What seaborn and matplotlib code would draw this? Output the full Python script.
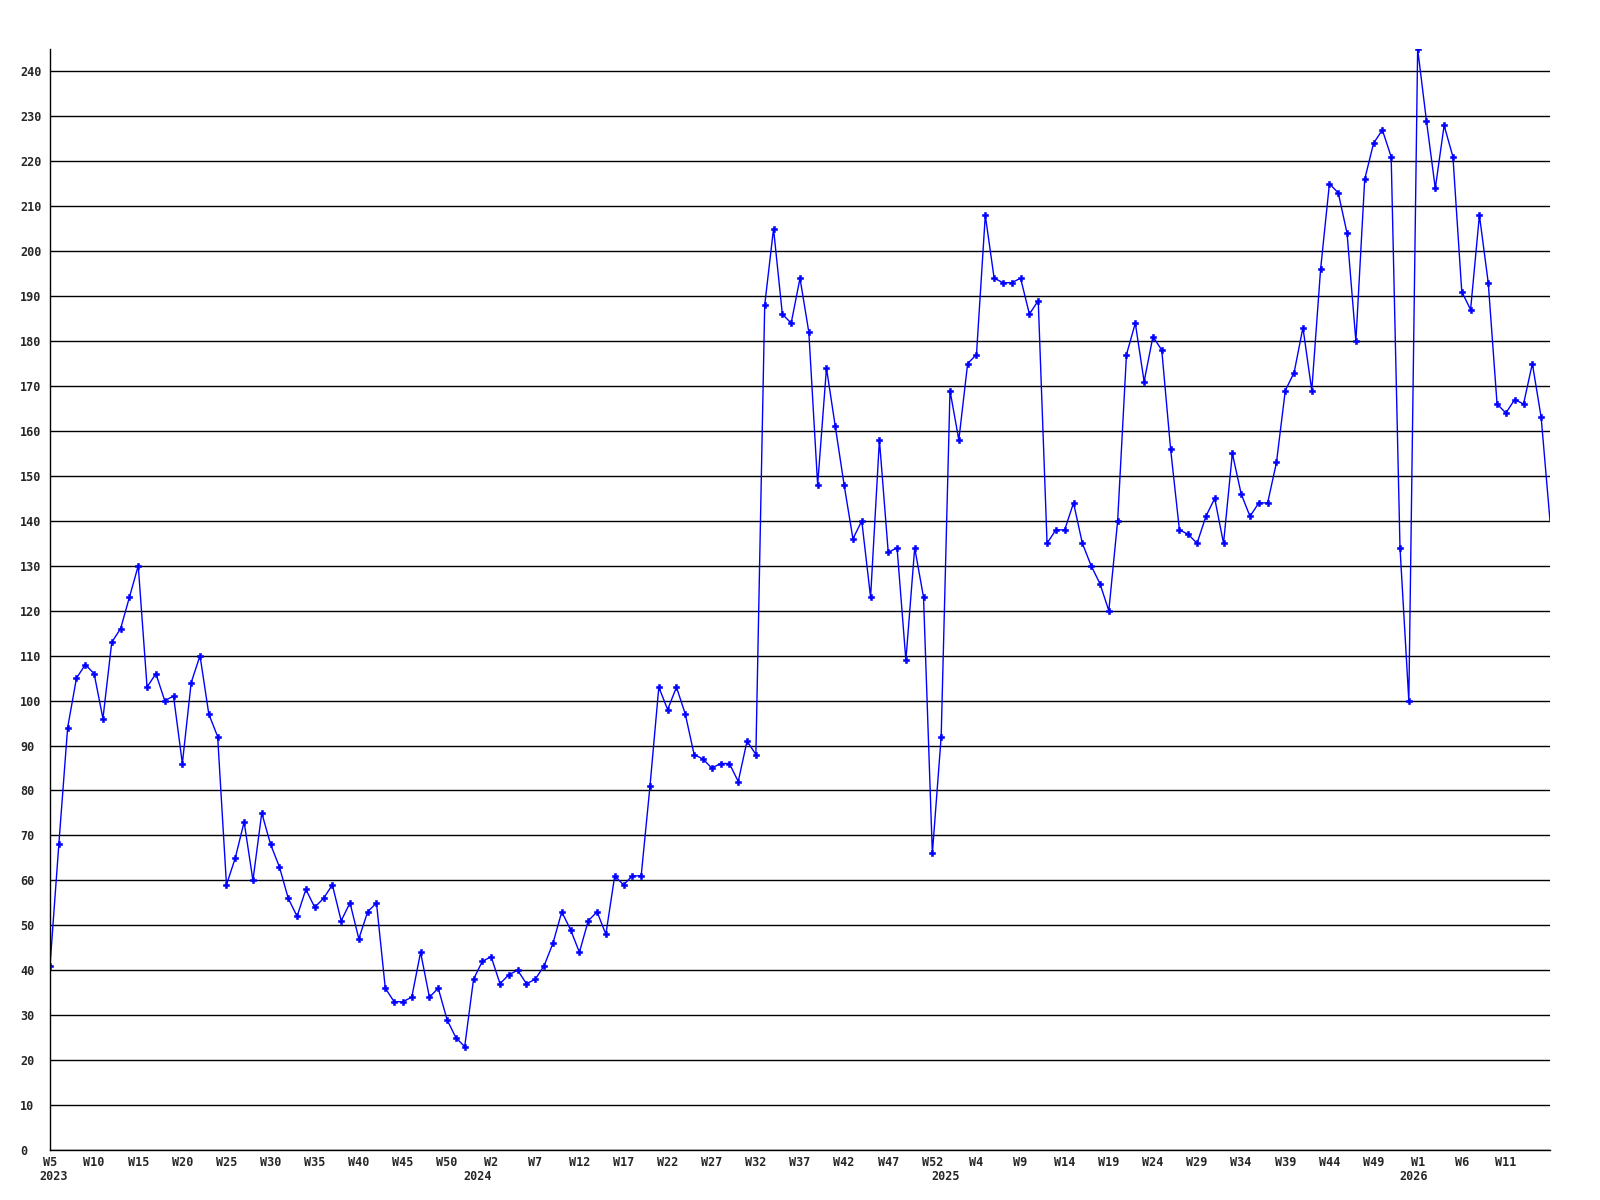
import matplotlib
matplotlib.use('Agg')
import matplotlib.pyplot as plt
import seaborn as sns
import pandas as pd

# weekly counts, 2023 W5 .. 2026 W16
values = [
    41, 68, 94, 105, 108, 106, 96, 113, 116, 123,
    130, 103, 106, 100, 101, 86, 104, 110, 97, 92,
    59, 65, 73, 60, 75, 68, 63, 56, 52, 58,
    54, 56, 59, 51, 55, 47, 53, 55, 36, 33,
    33, 34, 44, 34, 36, 29, 25, 23, 38, 42,
    43, 37, 39, 40, 37, 38, 41, 46, 53, 49,
    44, 51, 53, 48, 61, 59, 61, 61, 81, 103,
    98, 103, 97, 88, 87, 85, 86, 86, 82, 91,
    88, 188, 205, 186, 184, 194, 182, 148, 174, 161,
    148, 136, 140, 123, 158, 133, 134, 109, 134, 123,
    66, 92, 169, 158, 175, 177, 208, 194, 193, 193,
    194, 186, 189, 135, 138, 138, 144, 135, 130, 126,
    120, 140, 177, 184, 171, 181, 178, 156, 138, 137,
    135, 141, 145, 135, 155, 146, 141, 144, 144, 153,
    169, 173, 183, 169, 196, 215, 213, 204, 180, 216,
    224, 227, 221, 134, 100, 245, 229, 214, 228, 221,
    191, 187, 208, 193, 166, 164, 167, 166, 175, 163,
    140,
]

week_labels = ['W5', 'W10', 'W15', 'W20', 'W25', 'W30', 'W35', 'W40', 'W45', 'W50',
               'W2', 'W7', 'W12', 'W17', 'W22', 'W27', 'W32', 'W37', 'W42', 'W47', 'W52',
               'W4', 'W9', 'W14', 'W19', 'W24', 'W29', 'W34', 'W39', 'W44', 'W49',
               'W1', 'W6', 'W11']
year_labels = ['2023', '2024', '2025', '2026']
year_label_pos = [0.4, 48.5, 101.5, 154.5]

df = pd.DataFrame({'week': range(len(values)), 'count': values})

sns.set_theme(style='white')
plt.rcParams['font.family'] = ['DejaVu Sans Mono']
plt.rcParams['font.weight'] = 'bold'

fig = plt.figure(figsize=(16, 12), dpi=100)
ax = fig.add_axes([50 / 1600, 50 / 1200, 1500 / 1600, 1101 / 1200])

sns.lineplot(data=df, x='week', y='count', ax=ax, color='#0000ff', linewidth=1.0,
             marker='P', markersize=5, markeredgewidth=0.4, markeredgecolor='#0000ff',
             markevery=list(range(len(values) - 1)))

ax.set_xlim(0, len(values) - 1)
ax.set_ylim(0, max(values))
ax.set_yticks(range(0, 250, 10))
ax.set_xticks(range(0, 5 * len(week_labels), 5))
ax.set_xticklabels(week_labels)
ax.yaxis.grid(True, color='black', linewidth=1.0)
ax.xaxis.grid(False)

for s in ['top', 'right']:
    ax.spines[s].set_visible(False)
for s in ['left', 'bottom']:
    ax.spines[s].set_color('black')
    ax.spines[s].set_linewidth(1.0)

ax.tick_params(axis='y', length=0, pad=21.6, labelsize=8.5)
ax.tick_params(axis='x', length=0, pad=4, labelsize=8.5)
for lbl in ax.get_yticklabels():
    lbl.set_horizontalalignment('left')
    lbl.set_fontweight('bold')
for lbl in ax.get_xticklabels():
    lbl.set_fontweight('bold')

for pos, yl in zip(year_label_pos, year_labels):
    ax.text(pos, -27 / 1101, yl, transform=ax.get_xaxis_transform(),
            ha='center', va='center', fontsize=8.5, fontweight='bold')

ax.set_xlabel('')
ax.set_ylabel('')
fig.patch.set_facecolor('white')
fig.savefig('out.png', dpi=100, facecolor='white')
